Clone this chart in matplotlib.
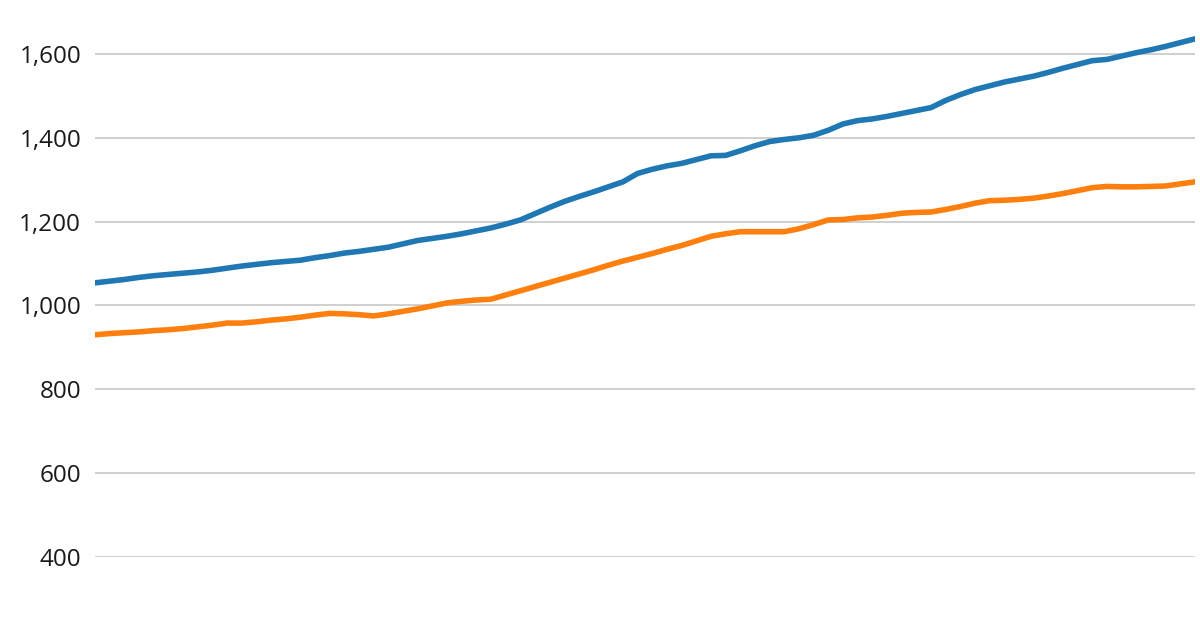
import matplotlib.pyplot as plt
import numpy as np

# quarterly series
serie_azul = [1054, 1058, 1062, 1067, 1071, 1074, 1077, 1080, 1084, 1089,
              1094, 1098, 1102, 1105, 1108, 1114, 1119, 1125, 1129, 1134,
              1139, 1147, 1155, 1160, 1165, 1171, 1178, 1185, 1194, 1204,
              1219, 1234, 1248, 1260, 1271, 1283, 1295, 1315, 1325, 1333,
              1339, 1348, 1357, 1358, 1369, 1381, 1391, 1396, 1400, 1406,
              1418, 1433, 1441, 1445, 1451, 1458, 1465, 1472, 1489, 1503,
              1515, 1524, 1533, 1540, 1547, 1556, 1566, 1575, 1584, 1587,
              1595, 1603, 1610, 1618, 1627, 1636]
serie_laranja = [930, 933, 935, 937, 940, 942, 945, 949, 953, 958,
                 958, 961, 965, 968, 972, 977, 981, 980, 978, 975,
                 980, 986, 992, 999, 1006, 1010, 1013, 1015, 1025, 1035,
                 1045, 1055, 1065, 1075, 1085, 1096, 1106, 1115, 1124, 1134,
                 1143, 1154, 1165, 1171, 1176, 1176, 1176, 1176, 1183, 1193,
                 1204, 1205, 1209, 1211, 1215, 1220, 1222, 1223, 1229, 1236,
                 1244, 1250, 1251, 1253, 1256, 1261, 1267, 1274, 1281, 1284,
                 1283, 1283, 1284, 1285, 1290, 1295]
yticks = [400, 600, 800, 1000, 1200, 1400, 1600]

plt.rcParams['font.family'] = ['Open Sans', 'DejaVu Sans']

fig = plt.figure(figsize=(12, 6.3), dpi=100)
ax = fig.add_axes([0.0792, 0.1159, 0.9166, 0.865])

x = np.arange(len(serie_azul))
ax.plot(x, serie_azul, color='#1f77b4', lw=4, solid_capstyle='round', zorder=3)
ax.plot(x, serie_laranja, color='#ff7f0e', lw=4, solid_capstyle='round', zorder=3)

ax.set_xlim(0, len(x) - 1)
ax.set_ylim(400, 1700)
ax.set_yticks(yticks)
ax.set_yticklabels([f'{v:,}' for v in yticks])
ax.set_xticks([])
ax.grid(axis='y', color='#cccccc', lw=1.3)
ax.set_axisbelow(True)
for s in ax.spines.values():
    s.set_visible(False)
ax.tick_params(axis='y', length=0, pad=10, labelsize=17.5, labelcolor='#1a1a1a')

fig.savefig('out.png', dpi=100)
